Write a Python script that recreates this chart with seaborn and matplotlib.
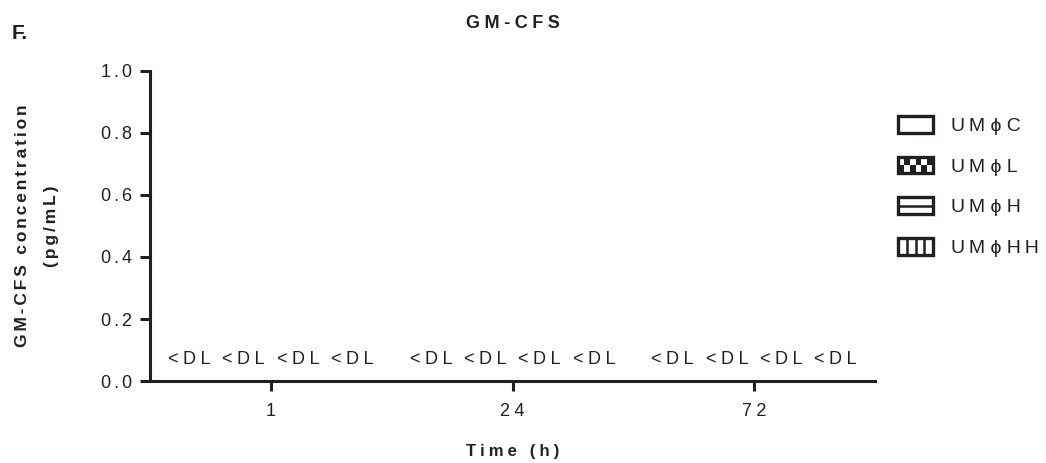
import numpy as np
import pandas as pd
import seaborn as sns
import matplotlib
matplotlib.use("Agg")
import matplotlib.pyplot as plt
from matplotlib.patches import Rectangle
from matplotlib.lines import Line2D
from matplotlib.legend_handler import HandlerBase

# Data: GM-CSF levels, all below the detection limit
times = ["1", "24", "72"]
groups = ["UM\u03d5C", "UM\u03d5L", "UM\u03d5H", "UM\u03d5HH"]
values = [
    [0.0, 0.0, 0.0, 0.0],  # 1 h
    [0.0, 0.0, 0.0, 0.0],  # 24 h
    [0.0, 0.0, 0.0, 0.0],  # 72 h
]
bar_labels = ["<DL", "<DL", "<DL", "<DL"]
yticks = [0.0, 0.2, 0.4, 0.6, 0.8, 1.0]
patterns = ["plain", "checker", "hline", "vlines"]

sns.set_theme(style="ticks")
plt.rcParams["font.family"] = ["Liberation Sans", "DejaVu Sans"]
INK = "#231f20"

NARROW = "\u2006"   # six-per-em space
WIDE = "\u2005"     # four-per-em space


def spaced(s, sep=NARROW):
    return sep.join(s)


rows = []
for t, vals in zip(times, values):
    for g, v in zip(groups, vals):
        rows.append({"time": t, "group": g, "value": v})
df = pd.DataFrame(rows)

fig = plt.figure(figsize=(10.46, 4.63), dpi=100)
ax = fig.add_axes([150 / 1046, 1 - 381 / 463, (875 - 150) / 1046, (381 - 71) / 463])

hatch_map = {"plain": "", "checker": "xx", "hline": "-", "vlines": "||"}
sns.barplot(data=df, x="time", y="value", hue="group", order=times,
            hue_order=groups, width=0.9, palette=["white"] * 4,
            edgecolor=INK, linewidth=2, ax=ax, legend=False, errorbar=None)

# hatches on the bars and the "<DL" marks above each bar
for gi, cont in enumerate(ax.containers):
    for bar in cont:
        bar.set_hatch(hatch_map[patterns[gi]])
        cx = bar.get_x() + bar.get_width() / 2
        ax.text(cx, bar.get_height() + 0.068, spaced(bar_labels[gi], WIDE),
                ha="center", va="center", fontsize=13, color=INK)

ax.set_xlim(-0.5, 2.5)
ax.set_ylim(0, 1.0)
ax.set_yticks(yticks)
ax.set_yticklabels([spaced(f"{v:.1f}") for v in yticks])
ax.set_xticks(range(len(times)))
ax.set_xticklabels([spaced(t, WIDE) for t in times])
ax.tick_params(axis="both", length=7, width=2.2, color=INK, labelsize=13,
               labelcolor=INK)
ax.tick_params(axis="y", pad=6)
ax.tick_params(axis="x", pad=9)
for side in ["left", "bottom"]:
    ax.spines[side].set_linewidth(2.2)
    ax.spines[side].set_color(INK)
sns.despine(ax=ax)

ax.set_xlabel(spaced("Time (h)", WIDE), fontsize=12, fontweight="bold",
              color=INK, labelpad=17)
ax.set_ylabel(spaced("GM-CFS concentration") + "\n" + spaced("(pg/mL)"),
              fontsize=12.5, fontweight="bold", color=INK, labelpad=30,
              linespacing=2.2)
ax.set_title(spaced("GM-CFS", WIDE), fontsize=13, fontweight="bold",
             color=INK, pad=31)
fig.text(12 / 1046, 1 - 39 / 463, "F.", fontsize=15, fontweight="bold",
         color=INK, ha="left", va="baseline")


class PatternHandler(HandlerBase):
    def create_artists(self, legend, orig_handle, xdescent, ydescent,
                       width, height, fontsize, trans):
        kind = orig_handle.get_label_kind()
        x0, y0 = -xdescent, -ydescent
        arts = [Rectangle((x0, y0), width, height, facecolor="white",
                          edgecolor=INK, lw=2.4, transform=trans)]
        if kind == "checker":
            nx, ny = 6, 2
            cw, ch = width / nx, height / ny
            for i in range(nx):
                for j in range(ny):
                    if (i + j) % 2 == 0:
                        arts.append(Rectangle((x0 + i * cw, y0 + j * ch), cw, ch,
                                              facecolor=INK, edgecolor="none",
                                              transform=trans))
        elif kind == "hline":
            arts.append(Line2D([x0, x0 + width], [y0 + height / 2] * 2,
                               color=INK, lw=1.8, transform=trans))
        elif kind == "vlines":
            for k in (1, 2, 3):
                xx = x0 + width * k / 4
                arts.append(Line2D([xx, xx], [y0, y0 + height], color=INK,
                                   lw=1.8, transform=trans))
        return arts


class PatternKey(Rectangle):
    def __init__(self, kind):
        super().__init__((0, 0), 1, 1)
        self._kind = kind

    def get_label_kind(self):
        return self._kind


handles = [PatternKey(p) for p in patterns]
labels = ["UM \u03d5 " + spaced(g[3:], "\u2009") for g in groups]
labels = [spaced("UM", "\u2009") + " \u03d5 " + spaced(g[3:], "\u2009")
          for g in groups]
leg = fig.legend(handles, labels, loc="upper left",
                 bbox_to_anchor=(898 / 1046, 1 - 116 / 463),
                 handler_map={PatternKey: PatternHandler()},
                 frameon=False, fontsize=14, handlelength=1.8,
                 handleheight=0.93, labelspacing=1.12, handletextpad=0.95,
                 borderpad=0, borderaxespad=0)
for txt in leg.get_texts():
    txt.set_color(INK)

fig.savefig("out.png", dpi=100)
